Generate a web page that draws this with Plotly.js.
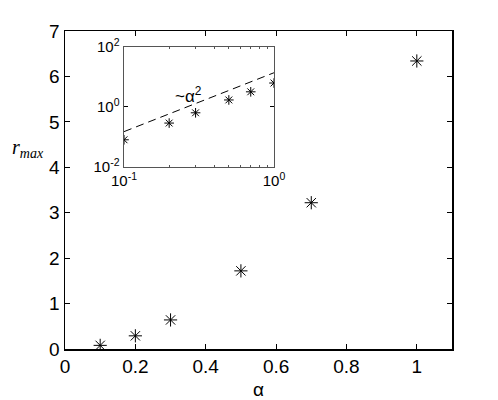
<!DOCTYPE html>
<html>
<head>
<meta charset="utf-8">
<script src="https://cdn.plot.ly/plotly-3.0.1.min.js"></script>
<style>
  html, body { margin: 0; padding: 0; background: #fff; }
  #chart { width: 498px; height: 400px; }
</style>
</head>
<body>
<div id="chart"></div>
<script>
// measured points (alpha, r_max)
const alpha = [0.1, 0.2, 0.3, 0.5, 0.7, 1.0];
const rMax = [0.08, 0.29, 0.64, 1.72, 3.22, 6.34];

// ~alpha^2 guide line in the inset
const guideX = [0.1, 1.0];
const guideY = [0.15, 14];

const mainXTicks = [0, 0.2, 0.4, 0.6, 0.8, 1];
const mainYTicks = [0, 1, 2, 3, 4, 5, 6, 7];
const insetXTicks = [0.1, 1];
const insetXText = ["10<sup>-1</sup>", "10<sup>0</sup>"];
const insetYTicks = [0.01, 1, 100];
const insetYText = ["10<sup>-2</sup>", "10<sup>0</sup>", "10<sup>2</sup>"];
const insetMinorX = [0.2, 0.3, 0.4, 0.5, 0.6, 0.7, 0.8, 0.9];

const sans = "Liberation Sans, Arial, sans-serif";

const traces = [
  {
    x: alpha, y: rMax, type: "scatter", mode: "markers",
    marker: { symbol: "asterisk-open", size: 11, color: "#000", line: { color: "#000", width: 1 } },
    xaxis: "x", yaxis: "y", showlegend: false
  },
  {
    x: guideX, y: guideY, type: "scatter", mode: "lines",
    line: { color: "#000", width: 1, dash: "8px,5px" },
    xaxis: "x2", yaxis: "y2", showlegend: false
  },
  {
    x: alpha, y: rMax, type: "scatter", mode: "markers",
    marker: { symbol: "asterisk-open", size: 8, color: "#000", line: { color: "#000", width: 1 } },
    xaxis: "x2", yaxis: "y2", showlegend: false
  }
];

const layout = {
  width: 498, height: 400,
  margin: { l: 65, r: 46, t: 31, b: 51 },
  paper_bgcolor: "#fff", plot_bgcolor: "#fff",
  xaxis: {
    range: [0, 1.1], tickvals: mainXTicks, ticktext: mainXTicks.map(String),
    ticks: "inside", ticklen: 5, tickwidth: 1, tickcolor: "#000",
    showline: true, linecolor: "#000", linewidth: 1.5, mirror: "ticks",
    showgrid: false, zeroline: false,
    tickfont: { family: sans, size: 19, color: "#000" },
    title: { text: "α", font: { family: sans, size: 19, color: "#000" }, standoff: 6 }
  },
  yaxis: {
    range: [0, 7], tickvals: mainYTicks,
    ticks: "inside", ticklen: 5, tickwidth: 1, tickcolor: "#000",
    showline: true, linecolor: "#000", linewidth: 1.5, mirror: "ticks",
    showgrid: false, zeroline: false,
    tickfont: { family: sans, size: 19, color: "#000" }
  },
  xaxis2: {
    type: "log", range: [-1, 0], domain: [0.1525, 0.54], anchor: "y2",
    tickvals: insetXTicks, ticktext: insetXText,
    ticks: "inside", ticklen: 4, tickcolor: "#000",
    minor: { tickvals: insetMinorX, ticks: "inside", ticklen: 2, tickcolor: "#555" },
    showline: true, linecolor: "#555", linewidth: 1.5, mirror: "ticks",
    showgrid: false, zeroline: false,
    tickfont: { family: sans, size: 15, color: "#000" }
  },
  yaxis2: {
    type: "log", range: [-2, 2], domain: [0.573, 0.949], anchor: "x2",
    tickvals: insetYTicks, ticktext: insetYText,
    ticks: "inside", ticklen: 4, tickcolor: "#000",
    showline: true, linecolor: "#555", linewidth: 1.5, mirror: "ticks",
    showgrid: false, zeroline: false,
    tickfont: { family: sans, size: 15, color: "#000" }
  },
  annotations: [
    {
      text: "<i>r</i><sub><i>max</i></sub>", xref: "paper", yref: "paper",
      x: -0.096, y: 0.63, xanchor: "center", yanchor: "middle", showarrow: false,
      font: { family: "Liberation Serif, Times New Roman, serif", size: 20, color: "#000" }
    },
    {
      text: "~α<sup>2</sup>", xref: "x2", yref: "y2",
      x: Math.log10(0.27), y: Math.log10(2.6), xanchor: "center", yanchor: "middle",
      showarrow: false,
      font: { family: sans, size: 17, color: "#000" }
    }
  ]
};

Plotly.newPlot("chart", traces, layout, { displayModeBar: false, staticPlot: true });
</script>
</body>
</html>
